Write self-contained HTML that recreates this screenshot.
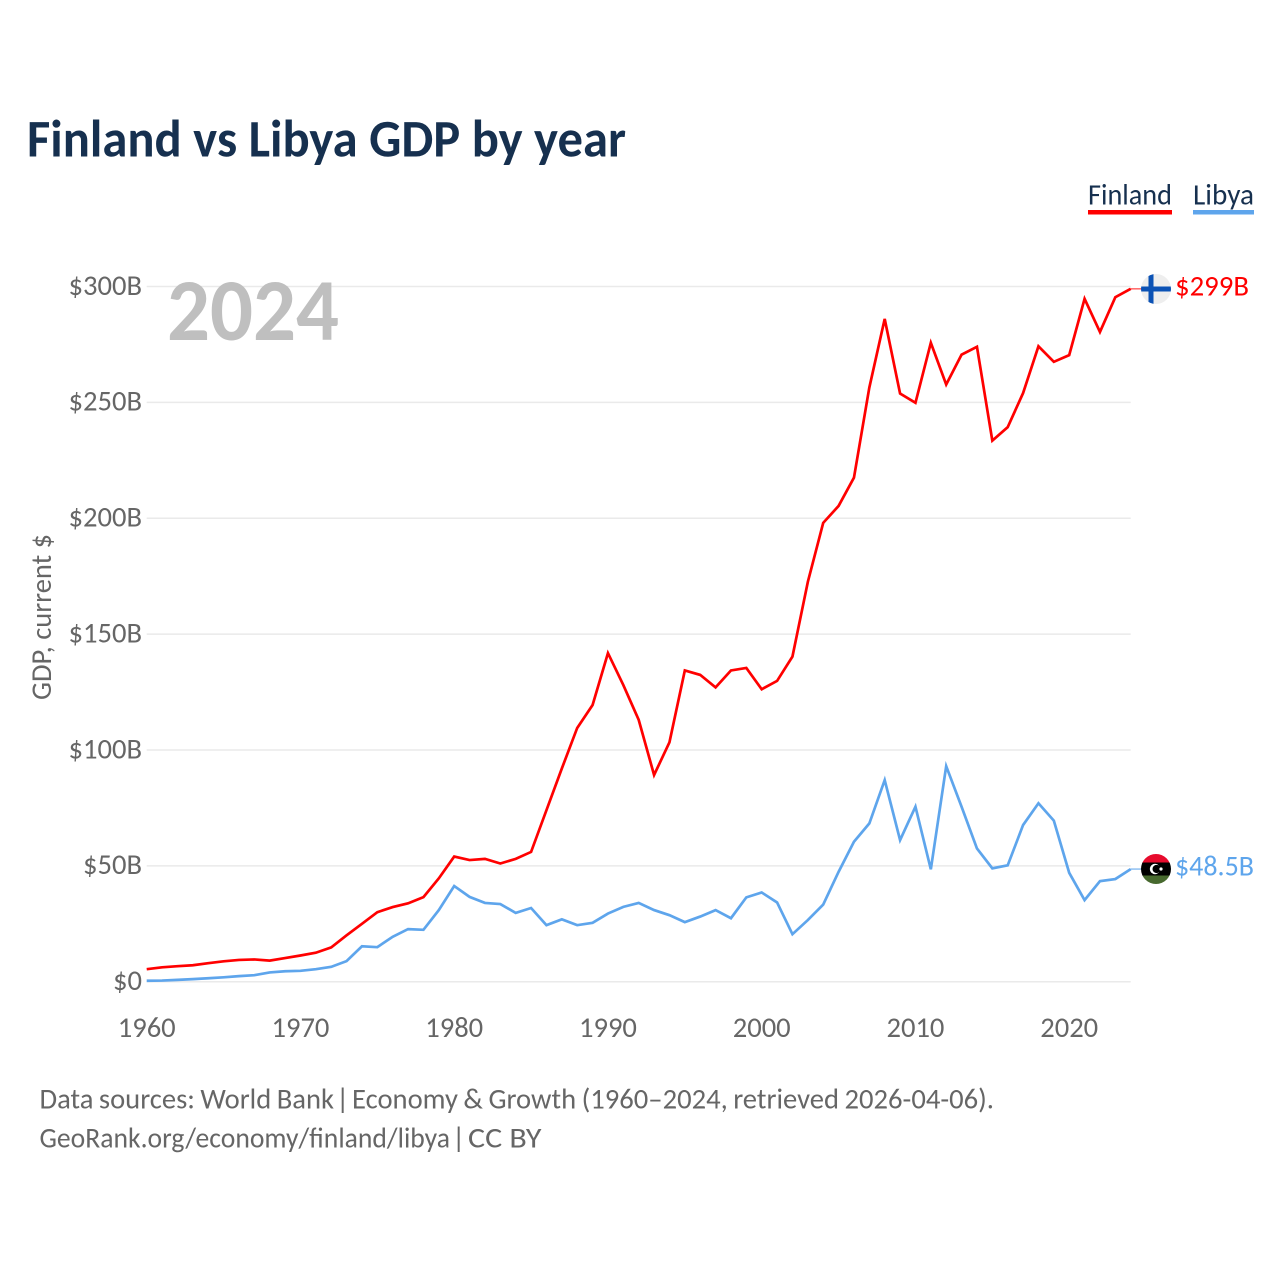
<!DOCTYPE html>
<html lang="en">
<head>
<meta charset="utf-8">
<title>Finland vs Libya GDP by year</title>
<style>
html,body{margin:0;padding:0;background:#fff;width:1280px;height:1280px;overflow:hidden}
svg{display:block}
text{font-family:"Carlito","Lato","Liberation Sans",sans-serif}
</style>
</head>
<body>
<svg id="chart" xmlns="http://www.w3.org/2000/svg" width="1280" height="1280" viewBox="0 0 1280 1280">
  <rect x="0" y="0" width="1280" height="1280" fill="#fff"/>
  <text x="27" y="156.5" font-size="53" font-weight="700" fill="#16304f" textLength="599" lengthAdjust="spacingAndGlyphs">Finland vs Libya GDP by year</text>
  <g id="grid"></g>
  <g id="yticks"></g>
  <g id="xticks"></g>
  <text transform="translate(51,617) rotate(-90)" text-anchor="middle" font-size="28.6" fill="#666" textLength="166" lengthAdjust="spacingAndGlyphs">GDP, current $</text>
  <text x="167" y="340" font-size="88" font-weight="700" fill="#bfbfbf" textLength="172" lengthAdjust="spacingAndGlyphs">2024</text>
  <g id="series"></g>

  <g>
    <text x="1088" y="204.5" font-size="29.5" fill="#16304f" textLength="84" lengthAdjust="spacingAndGlyphs">Finland</text>
    <rect x="1088" y="210" width="84" height="4.5" fill="#ff0000"/>
  </g>
  <g>
    <text x="1193" y="204.5" font-size="29.5" fill="#16304f" textLength="61" lengthAdjust="spacingAndGlyphs">Libya</text>
    <rect x="1193" y="210" width="61" height="4.5" fill="#5ea5ec"/>
  </g>

  <defs>
    <clipPath id="clip-fi"><circle cx="1156" cy="289" r="15"/></clipPath>
    <clipPath id="clip-ly"><circle cx="1156" cy="869" r="15"/></clipPath>
  </defs>
  <g clip-path="url(#clip-fi)">
    <rect x="1141" y="274" width="30" height="30" fill="#eeeeee"/>
    <rect x="1141" y="286.5" width="30" height="5" fill="#0b52b5"/>
    <rect x="1148.5" y="274" width="5" height="30" fill="#0b52b5"/>
  </g>
  <g clip-path="url(#clip-ly)">
    <rect x="1141" y="854" width="30" height="9" fill="#e70b2d"/>
    <rect x="1141" y="862.5" width="30" height="13.5" fill="#000"/>
    <rect x="1141" y="875.5" width="30" height="9" fill="#47692e"/>
    <circle cx="1155" cy="869" r="5.2" fill="#fff"/>
    <circle cx="1156.6" cy="869" r="4.1" fill="#000"/>
    <circle cx="1161" cy="869" r="1.6" fill="#fff"/>
  </g>
  <text x="1175" y="295.5" font-size="28.6" fill="#ff0000" textLength="74" lengthAdjust="spacingAndGlyphs">$299B</text>
  <text x="1175" y="875.5" font-size="28.6" fill="#5ea5ec" textLength="79" lengthAdjust="spacingAndGlyphs">$48.5B</text>

  <g font-size="29" fill="#666">
    <text x="39.5" y="1108.5" word-spacing="-1" textLength="294.5" lengthAdjust="spacingAndGlyphs">Data sources: World Bank</text>
    <text x="336" y="1108.5">|</text>
    <text x="352" y="1108.5" word-spacing="-1" textLength="642" lengthAdjust="spacingAndGlyphs">Economy &amp; Growth (1960–2024, retrieved 2026-04-06).</text>
  </g>
  <g font-size="29" fill="#666">
    <text x="39.5" y="1147.5" textLength="410.5" lengthAdjust="spacingAndGlyphs">GeoRank.org/economy/finland/libya</text>
    <text x="452" y="1147.5">|</text>
    <text x="468" y="1147.5" textLength="73.5" lengthAdjust="spacingAndGlyphs">CC BY</text>
  </g>
</svg>
<script>
const startYear = 1960;
const xTickYears = [1960, 1970, 1980, 1990, 2000, 2010, 2020];
const yTickValues = [0, 50, 100, 150, 200, 250, 300];
const yTickLabels = ["$0", "$50B", "$100B", "$150B", "$200B", "$250B", "$300B"];
const finlandGdp = [5.4, 6.2, 6.7, 7.1, 8.0, 8.8, 9.4, 9.6, 9.1, 10.2, 11.3, 12.5, 14.8, 20, 25, 30, 32.2, 33.8, 36.5, 44.6, 54, 52.5, 53, 51, 53, 56, 74, 92, 109.5, 119.4, 141.8, 128, 113, 89.2, 103.3, 134.3, 132.4, 127, 134.3, 135.4, 126.2, 129.8, 140.3, 172.5, 198, 205.3, 217.5, 256.4, 286, 253.8, 249.8, 275.7, 257.7, 270.6, 274, 233.5, 239.3, 254, 274.2, 267.5, 270.4, 294.7, 280.4, 295.4, 299];
const libyaGdp = [0.4, 0.5, 0.8, 1.1, 1.5, 1.9, 2.4, 2.8, 4, 4.5, 4.7, 5.4, 6.4, 8.9, 15.3, 14.9, 19.4, 22.7, 22.4, 30.9, 41.3, 36.6, 34, 33.5, 29.7, 31.8, 24.4, 26.9, 24.4, 25.4, 29.4, 32.3, 34, 30.9, 28.7, 25.7, 28.1, 30.9, 27.4, 36.4, 38.5, 34.2, 20.5, 26.6, 33.3, 47.4, 60.4, 68.3, 87, 61.1, 75.5, 48.5, 93, 75.5, 57.5, 48.9, 50.2, 67.6, 77, 69.5, 47, 35.2, 43.4, 44.3, 48.6];

const NS = "http://www.w3.org/2000/svg";
const xLeft = 146.7, xRight = 1130.7, yZero = 981.7, yTop = 286.5;
function xScale(year) { return xLeft + (year - 1960) * (xRight - xLeft) / 64; }
function yScale(v) { return yZero - v * (yZero - yTop) / 300; }

const gridGroup = document.getElementById("grid");
const yTickGroup = document.getElementById("yticks");
const xTickGroup = document.getElementById("xticks");
const seriesGroup = document.getElementById("series");

yTickValues.forEach(function (v, i) {
  const line = document.createElementNS(NS, "line");
  
  
  line.setAttribute("x1", xLeft);
  line.setAttribute("x2", xRight);
  line.setAttribute("y1", yScale(v));
  line.setAttribute("y2", yScale(v));
  line.setAttribute("stroke", "#eaeaea");
  line.setAttribute("stroke-width", "1.5");
  gridGroup.appendChild(line);

  const t = document.createElementNS(NS, "text");
  
  
  t.setAttribute("x", 142);
  t.setAttribute("y", yScale(v) + 8.3);
  t.setAttribute("text-anchor", "end");
  t.setAttribute("font-size", "28.6");
  t.setAttribute("fill", "#666");
  t.textContent = yTickLabels[i];
  yTickGroup.appendChild(t);
});

xTickYears.forEach(function (year) {
  const t = document.createElementNS(NS, "text");
  
  
  t.setAttribute("x", xScale(year));
  t.setAttribute("y", 1036.8);
  t.setAttribute("text-anchor", "middle");
  t.setAttribute("font-size", "28.6");
  t.setAttribute("fill", "#666");
  t.textContent = String(year);
  xTickGroup.appendChild(t);
});

function pathFor(values) {
  return values.map(function (v, i) {
    return (i ? "L" : "M") + xScale(startYear + i).toFixed(2) + " " + yScale(v).toFixed(2);
  }).join(" ");
}

const libyaLine = document.createElementNS(NS, "path");


libyaLine.setAttribute("d", pathFor(libyaGdp));
libyaLine.setAttribute("fill", "none");
libyaLine.setAttribute("stroke", "#5ea5ec");
libyaLine.setAttribute("stroke-width", "2.7");
seriesGroup.appendChild(libyaLine);

const finlandLine = document.createElementNS(NS, "path");


finlandLine.setAttribute("d", pathFor(finlandGdp));
finlandLine.setAttribute("fill", "none");
finlandLine.setAttribute("stroke", "#ff0000");
finlandLine.setAttribute("stroke-width", "2.7");
seriesGroup.appendChild(finlandLine);

const finlandConnector = document.createElementNS(NS, "line");


finlandConnector.setAttribute("x1", xRight);
finlandConnector.setAttribute("x2", 1141);
finlandConnector.setAttribute("y1", yScale(finlandGdp[finlandGdp.length - 1]));
finlandConnector.setAttribute("y2", yScale(finlandGdp[finlandGdp.length - 1]));
finlandConnector.setAttribute("stroke", "#ff0000");
finlandConnector.setAttribute("stroke-opacity", "0.6");
finlandConnector.setAttribute("stroke-width", "1.5");
seriesGroup.appendChild(finlandConnector);

const libyaConnector = document.createElementNS(NS, "line");


libyaConnector.setAttribute("x1", xRight);
libyaConnector.setAttribute("x2", 1141);
libyaConnector.setAttribute("y1", yScale(libyaGdp[libyaGdp.length - 1]));
libyaConnector.setAttribute("y2", yScale(libyaGdp[libyaGdp.length - 1]));
libyaConnector.setAttribute("stroke", "#5ea5ec");
libyaConnector.setAttribute("stroke-opacity", "0.7");
libyaConnector.setAttribute("stroke-width", "1.5");
seriesGroup.appendChild(libyaConnector);
</script>
</body>
</html>
